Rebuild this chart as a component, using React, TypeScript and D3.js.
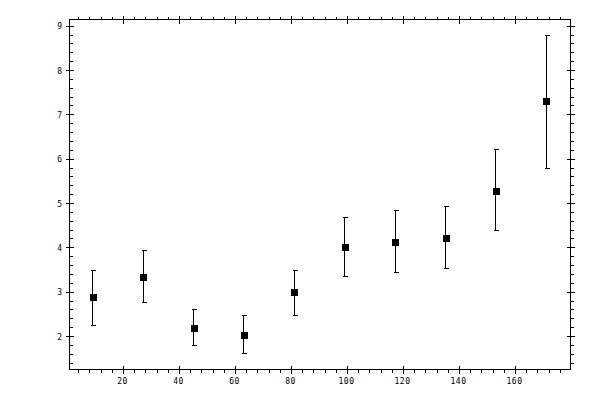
import React from "react";
import * as d3 from "d3";

const xValues = [9, 27, 45, 63, 81, 99, 117, 135, 153, 171];
const yValues = [2.88, 3.35, 2.2, 2.045, 3.0, 4.03, 4.14, 4.23, 5.29, 7.31];
const yHigh = [3.48, 3.93, 2.61, 2.47, 3.5, 4.68, 4.84, 4.93, 6.21, 8.79];
const yLow = [2.25, 2.77, 1.8, 1.62, 2.47, 3.36, 3.44, 3.54, 4.4, 5.8];
const xMajorTicks = [20, 40, 60, 80, 100, 120, 140, 160];
const yMajorTicks = [2, 3, 4, 5, 6, 7, 8, 9];

const W = 600;
const H = 400;
const L = 69.5, R = 570.5, T = 19.5, B = 369.5;

export default function App() {
  const x = d3.scaleLinear().domain([0.714, 179.64]).range([L, R]);
  const y = d3.scaleLinear().domain([1.2556, 9.151]).range([B, T]);

  const xMinor = d3.range(4, 180, 4).filter((v) => v % 20 !== 0);
  const yMinor = d3.range(14, 92, 2).map((v) => v / 10).filter((v) => Math.abs(v - Math.round(v)) > 1e-6);

  const snap = (v: number) => Math.floor(v) + 0.5;
  const font = "'DejaVu Sans Mono', monospace";

  return (
    <svg
      width={W}
      height={H}
      style={{ position: "absolute", left: 0, top: 0, display: "block", background: "#fff" }}
    >
      <rect x={0} y={0} width={W} height={H} fill="#fff" />
      <g stroke="#000" strokeWidth={1} shapeRendering="crispEdges" fill="none">
        <rect x={L} y={T} width={R - L} height={B - T} />
        {/* bottom & top minor */}
        {xMinor.map((v) => (
          <g key={"xm" + v}>
            <line x1={snap(x(v))} x2={snap(x(v))} y1={B} y2={B + 3} />
            <line x1={snap(x(v))} x2={snap(x(v))} y1={T} y2={T - 3} />
          </g>
        ))}
        {xMajorTicks.map((v) => (
          <g key={"xM" + v}>
            <line x1={snap(x(v))} x2={snap(x(v))} y1={B - 4} y2={B + 4} />
            <line x1={snap(x(v))} x2={snap(x(v))} y1={T - 4} y2={T + 4} />
          </g>
        ))}
        {yMinor.map((v) => (
          <g key={"ym" + v}>
            <line x1={L} x2={L + 3} y1={snap(y(v))} y2={snap(y(v))} />
            <line x1={R} x2={R + 3} y1={snap(y(v))} y2={snap(y(v))} />
          </g>
        ))}
        {yMajorTicks.map((v) => (
          <g key={"yM" + v}>
            <line x1={L - 4} x2={L + 4} y1={snap(y(v))} y2={snap(y(v))} />
            <line x1={R - 4} x2={R + 4} y1={snap(y(v))} y2={snap(y(v))} />
          </g>
        ))}
        {/* error bars */}
        {xValues.map((xv, i) => {
          const cx = snap(x(xv));
          const yh = snap(y(yHigh[i]));
          const yl = snap(y(yLow[i]));
          return (
            <g key={"e" + i}>
              <line x1={cx} x2={cx} y1={yh} y2={yl} />
              <line x1={cx - 2} x2={cx + 3} y1={yh} y2={yh} />
              <line x1={cx - 2} x2={cx + 3} y1={yl} y2={yl} />
            </g>
          );
        })}
      </g>
      <g fill="#000" shapeRendering="crispEdges">
        {xValues.map((xv, i) => (
          <rect
            key={"m" + i}
            x={Math.round(x(xv)) - 3.5}
            y={Math.round(y(yValues[i])) - 3.5}
            width={7}
            height={7}
          />
        ))}
      </g>
      <g fontFamily={font} fontSize={8} fill="#000">
        {xMajorTicks.map((v) => (
          <text key={"xl" + v} x={x(v) - 1} y={383.5} textAnchor="middle" letterSpacing={0.5}>
            {v}
          </text>
        ))}
        {yMajorTicks.map((v) => (
          <text key={"yl" + v} x={62} y={y(v) + 3} textAnchor="end">
            {v}
          </text>
        ))}
      </g>
    </svg>
  );
}
